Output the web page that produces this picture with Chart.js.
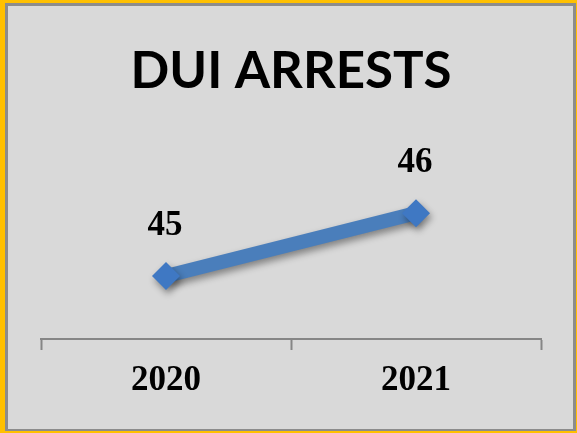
<!DOCTYPE html>
<html>
<head>
<meta charset="utf-8">
<script src="https://cdn.jsdelivr.net/npm/chart.js@4/dist/chart.umd.min.js"></script>
<style>
  html, body { margin: 0; padding: 0; background: #d9d9d9; }
  #wrap { width: 577px; height: 433px; }
</style>
</head>
<body>
<div id="wrap"><canvas id="dui-chart" width="577" height="433"></canvas></div>
<script>
// data
const years = ['2020', '2021'];
const arrests = [45, 46];
const chartTitle = 'DUI ARRESTS';

const lineBlue = '#4a7ebb';

// frame: orange outer edge + grey inner edge + light fill
const framePlugin = {
  id: 'frame',
  beforeDraw(chart) {
    const c = chart.ctx;
    c.save();
    c.fillStyle = '#ffc000';
    c.fillRect(0, 0, chart.width, chart.height);
    c.fillStyle = '#8c8c8c';
    c.fillRect(5, 3, chart.width - 6, chart.height - 5);
    c.fillStyle = '#d9d9d9';
    c.fillRect(8, 6, chart.width - 12, chart.height - 10);
    c.restore();
  }
};

// soft drop shadow under the line like the office chart
const shadowPlugin = {
  id: 'shadow',
  beforeDatasetDraw(chart) {
    const c = chart.ctx;
    c.save();
    c.shadowColor = 'rgba(0,0,0,0.4)';
    c.shadowBlur = 7;
    c.shadowOffsetX = 2;
    c.shadowOffsetY = 4;
  },
  afterDatasetDraw(chart) {
    chart.ctx.restore();
  }
};

// value labels above each point
const valueLabels = {
  id: 'valueLabels',
  afterDatasetsDraw(chart) {
    const c = chart.ctx;
    const meta = chart.getDatasetMeta(0);
    c.save();
    c.font = 'bold 35px "Liberation Serif"';
    c.fillStyle = '#000';
    c.textAlign = 'center';
    c.textBaseline = 'alphabetic';
    meta.data.forEach(function (pt, i) {
      c.fillText(String(arrests[i]), pt.x - 1, pt.y - 41);
    });
    c.restore();
  }
};

const ctx = document.getElementById('dui-chart');
new Chart(ctx, {
  type: 'line',
  data: {
    labels: years,
    datasets: [{
      data: arrests,
      borderColor: lineBlue,
      backgroundColor: lineBlue,
      borderWidth: 14,
      pointStyle: 'rectRot',
      pointRadius: 14,
      pointBorderWidth: 0,
      pointBackgroundColor: '#3f78c3',
      clip: false
    }]
  },
  options: {
    responsive: false,
    animation: false,
    layout: { padding: { left: 41, right: 36, top: 41, bottom: 21 } },
    plugins: {
      legend: { display: false },
      tooltip: { enabled: false },
      title: {
        display: true,
        text: chartTitle,
        color: '#000',
        font: { family: 'Lato', size: 51, weight: 'bold', lineHeight: 1.2 },
        padding: { top: 0, bottom: 48 }
      }
    },
    scales: {
      x: {
        offset: true,
        grid: {
          offset: true,
          drawOnChartArea: false,
          tickLength: 11,
          tickWidth: 2,
          tickColor: '#868686'
        },
        border: { color: '#868686', width: 2 },
        ticks: {
          color: '#000',
          padding: 10,
          font: { family: 'Liberation Serif', size: 35, weight: 'bold', lineHeight: 1.2 }
        }
      },
      y: {
        display: false,
        min: 44,
        max: 47
      }
    }
  },
  plugins: [framePlugin, shadowPlugin, valueLabels]
});
</script>
</body>
</html>
